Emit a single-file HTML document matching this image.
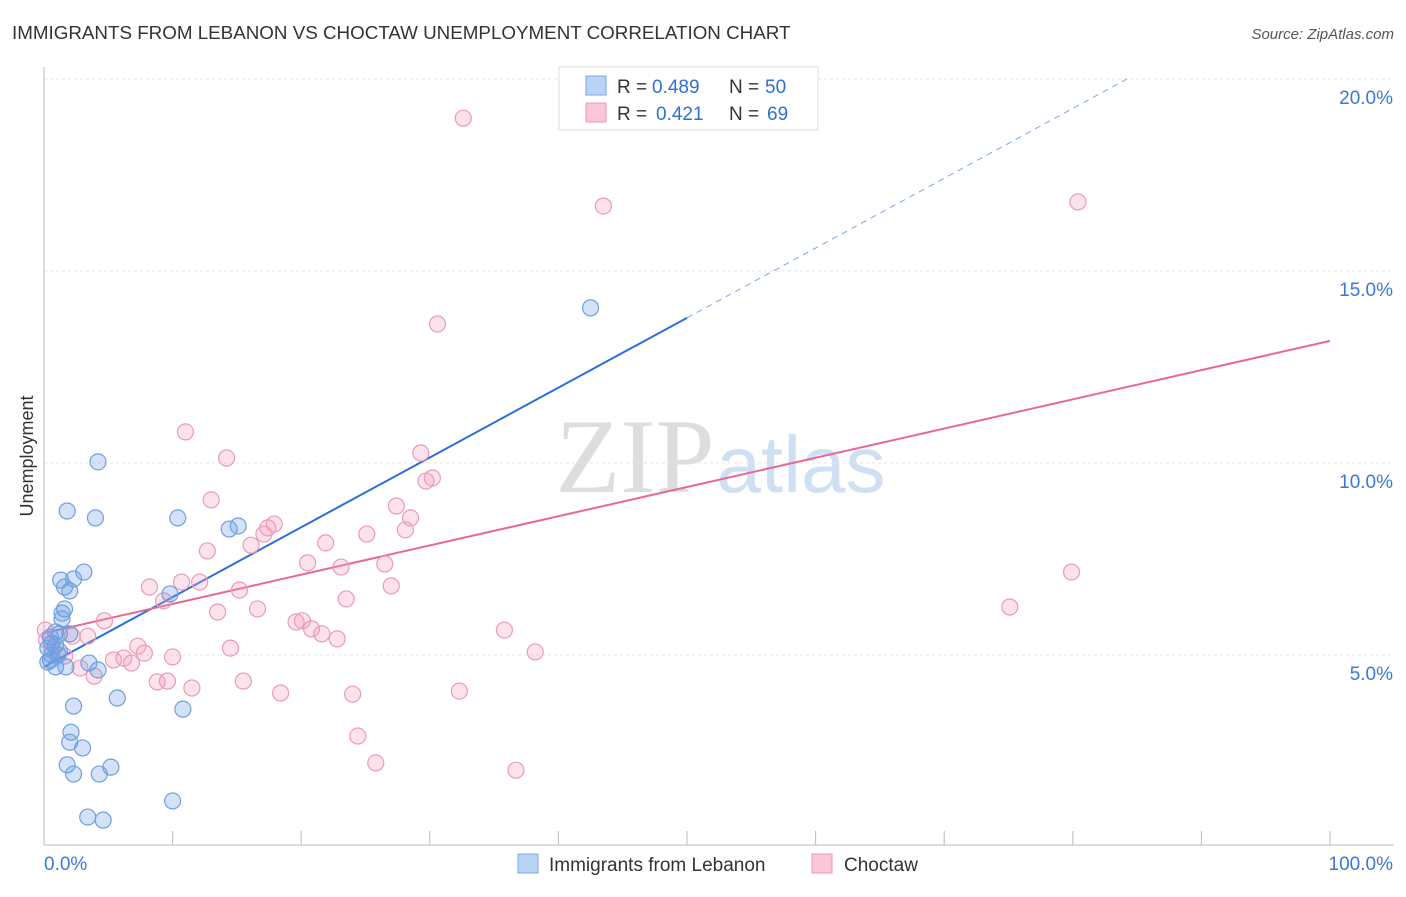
<!DOCTYPE html>
<html><head><meta charset="utf-8"><style>
body{margin:0;background:#fff;font-family:"Liberation Sans",sans-serif;}
</style></head><body>
<svg id="chart" width="1406" height="892" xmlns="http://www.w3.org/2000/svg" style="font-family:'Liberation Sans',sans-serif">
<text x="12" y="39" font-size="18.8" fill="#333">IMMIGRANTS FROM LEBANON VS CHOCTAW UNEMPLOYMENT CORRELATION CHART</text>
<text x="1394" y="39" font-size="15" fill="#555" font-style="italic" text-anchor="end">Source: ZipAtlas.com</text>
<text x="33" y="456" font-size="18" fill="#333" transform="rotate(-90 33 456)" text-anchor="middle">Unemployment</text>
<g>
<text x="635" y="492" font-size="106" fill="#ddd" text-anchor="middle" font-family="Liberation Serif,serif">ZIP</text>
<text x="801" y="492" font-size="80" fill="#cfe0f3" text-anchor="middle">atlas</text>
</g>
<g id="grid"></g><g id="axes"></g><g id="lines"></g><g id="pts"></g>
<g>
<rect x="559" y="67" width="259" height="63" fill="#fff" stroke="#ddd"/>
<rect x="586" y="76" width="20" height="19" fill="#b8d3f5" stroke="#7aa7e4"/>
<rect x="586" y="103" width="20" height="19" fill="#f9c7d7" stroke="#ec9ab7"/>
<text x="617" y="93" font-size="19" fill="#333">R =</text>
<text x="652" y="93" font-size="19" fill="#2f6fd6">0.489</text>
<text x="729" y="93" font-size="19" fill="#333">N =</text>
<text x="765" y="93" font-size="19" fill="#2f6fd6">50</text>
<text x="617" y="120" font-size="19" fill="#333">R =</text>
<text x="656" y="120" font-size="19" fill="#2f6fd6">0.421</text>
<text x="729" y="120" font-size="19" fill="#333">N =</text>
<text x="767" y="120" font-size="19" fill="#2f6fd6">69</text>
</g>
<g>
<rect x="518" y="854" width="20" height="19" fill="#b8d3f5" stroke="#7aa7e4"/>
<text x="549" y="871" font-size="19" fill="#333">Immigrants from Lebanon</text>
<rect x="812" y="854" width="20" height="19" fill="#f9c7d7" stroke="#ec9ab7"/>
<text x="844" y="871" font-size="19" fill="#333">Choctaw</text>
</g>
</svg>
<script>
const yTicks=[5,10,15,20];
const xTickLabels=["0.0%","100.0%"];
const blueX=[4.2,1.8,4.0,10.4,15.1,14.4,3.1,1.3,2.3,1.6,2.0,1.6,1.4,1.4,9.8,42.5,0.9,1.2,2.0,0.5,0.6,0.9,0.3,1.2,0.6,0.5,0.9,1.7,3.5,4.2,5.7,2.3,2.1,2.0,3.0,1.8,5.2,2.3,4.3,10.8,10.0,3.4,4.6,0.3,1.1];
const blueY=[10.03,8.75,8.57,8.57,8.36,8.28,7.16,6.95,6.98,6.77,6.67,6.2,6.09,5.94,6.59,14.04,5.6,5.55,5.55,5.47,5.31,5.26,5.18,5.1,5.0,4.87,4.69,4.69,4.79,4.61,3.88,3.67,2.99,2.73,2.58,2.14,2.08,1.9,1.9,3.59,1.2,0.78,0.7,4.82,5.0];
const pinkX=[32.6,43.5,80.4,30.6,11.0,14.2,29.3,30.2,29.7,13.0,27.4,28.5,17.9,17.4,17.1,28.1,25.1,21.9,16.1,12.7,20.5,23.1,26.5,79.9,8.2,10.7,12.1,15.2,27.0,23.5,9.3,75.1,13.5,16.6,4.7,19.6,20.1,35.8,20.8,21.6,22.8,3.4,2.2,7.3,14.5,38.2,7.8,6.2,5.4,6.8,10.0,1.6,2.8,3.9,8.8,9.6,11.5,15.5,18.4,24.0,32.3,24.4,25.8,36.7,0.1,0.6,0.2];
const pinkY=[18.98,16.69,16.8,13.62,10.81,10.13,10.26,9.61,9.53,9.04,8.88,8.57,8.41,8.31,8.15,8.26,8.15,7.92,7.86,7.71,7.4,7.29,7.37,7.16,6.77,6.9,6.9,6.69,6.8,6.46,6.41,6.25,6.12,6.2,5.89,5.86,5.89,5.65,5.68,5.55,5.42,5.49,5.49,5.23,5.18,5.08,5.05,4.92,4.87,4.79,4.95,4.97,4.66,4.45,4.3,4.32,4.14,4.32,4.01,3.98,4.06,2.89,2.19,2.0,5.65,5.13,5.39];
const blueFit=[4.69,0.1818];
const pinkFit=[5.57,0.0761];
const NS="http://www.w3.org/2000/svg";
const X=v=>44+v*12.86, Y=v=>847-v*38.4;
function mk(tag,attrs,parent){const e=document.createElementNS(NS,tag);for(const k in attrs)e.setAttribute(k,attrs[k]);document.getElementById(parent).appendChild(e);return e;}
yTicks.forEach(t=>{
 const g=mk('line',{x1:44,x2:1394,y1:Y(t),y2:Y(t),stroke:'#e4e4e4','stroke-dasharray':'3 3'},'grid');
 
 
 const l=mk('text',{x:1393,y:Y(t)+25,'font-size':19,fill:'#3a78d6','text-anchor':'end'},'grid');
 l.textContent=t.toFixed(1)+'%';
 
 
});
const ax=mk('line',{x1:44,x2:44,y1:67,y2:845,stroke:'#bbb'},'axes');


const bx=mk('line',{x1:44,x2:1394,y1:845,y2:845,stroke:'#bbb'},'axes');


for(let i=0;i<=10;i++){const t=mk('line',{x1:X(i*10),x2:X(i*10),y1:831,y2:845,stroke:'#bbb'},'axes');
 
 }
const l0=mk('text',{x:44,y:870,'font-size':19,fill:'#3a78d6'},'axes');l0.textContent=xTickLabels[0];


const l1=mk('text',{x:1393,y:870,'font-size':19,fill:'#3a78d6','text-anchor':'end'},'axes');l1.textContent=xTickLabels[1];


const bEnd=(20-blueFit[0])/blueFit[1];
const b1=mk('line',{x1:X(0),y1:Y(blueFit[0]),x2:X(50),y2:Y(blueFit[0]+50*blueFit[1]),stroke:'#2a6fd8','stroke-width':2},'lines');


const b2=mk('line',{x1:X(50),y1:Y(blueFit[0]+50*blueFit[1]),x2:X(bEnd),y2:Y(20),stroke:'#7aa7e4','stroke-width':1,'stroke-dasharray':'6 5'},'lines');


const p1=mk('line',{x1:X(0),y1:Y(pinkFit[0]),x2:X(100),y2:Y(pinkFit[0]+100*pinkFit[1]),stroke:'#e8679a','stroke-width':2},'lines');


pinkX.forEach((x,i)=>{const c=mk('circle',{cx:X(x),cy:Y(pinkY[i]),r:8,fill:'rgba(244,160,190,0.3)',stroke:'#ec9ab7','stroke-width':1.2},'pts');
 
 });
blueX.forEach((x,i)=>{const c=mk('circle',{cx:X(x),cy:Y(blueY[i]),r:8,fill:'rgba(110,160,230,0.3)',stroke:'#6f9fe0','stroke-width':1.2},'pts');
 
 });
</script>
</body></html>
